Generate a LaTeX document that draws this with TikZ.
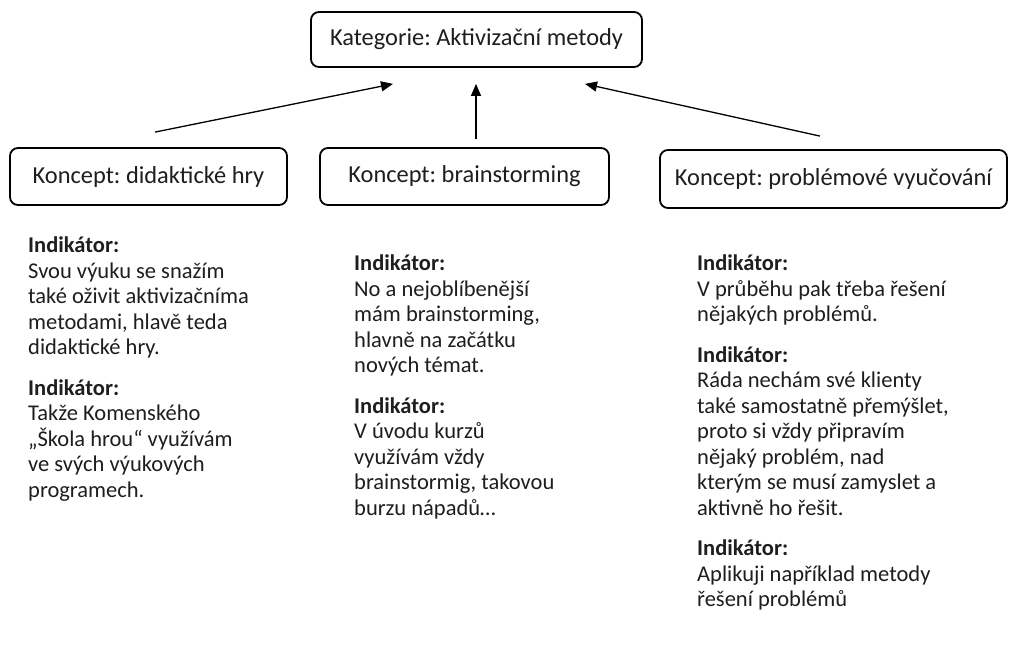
\documentclass[tikz,border=0pt]{standalone}
\usepackage{fontspec}
\setmainfont{Carlito}
\frenchspacing
\usetikzlibrary{arrows.meta,calc}
\definecolor{txt}{HTML}{1E1E1E}
\begin{document}
\begin{tikzpicture}[x=1pt,y=-1pt,
  box/.style={draw, line width=1.8pt, rounded corners=8pt, inner sep=0pt,
    text=txt, font=\fontsize{24.4}{28}\selectfont},
  arr/.style={line width=1.3pt, -{Triangle[length=12pt,width=10pt]}},
  ind/.style={anchor=north west, inner sep=0pt, align=left, text=txt,
    font=\fontsize{22.5}{25.5}\selectfont},
]
\useasboundingbox (0,0) rectangle (1014,650);
\fill[white] (0,0) rectangle (1014,650);

\node[box, minimum width=331pt, minimum height=55pt] (cat) at (476.5,39.5) {Kategorie: Aktivizační metody};
\node[box, minimum width=277pt, minimum height=57pt] (k1) at (148.5,176.5) {Koncept: didaktické hry};
\node[box, minimum width=289pt, minimum height=57pt] (k2) at (464.5,176.5) {Koncept: brainstorming};
\node[box, minimum width=347pt, minimum height=58pt] (k3) at (833.5,179) {Koncept: problémové vyučování};

\coordinate (s1) at ($(k1.north)+(6.5,-15)$);
\coordinate (e1) at ($(cat.south)+(-83.5,16)$);
\coordinate (s2) at ($(k2.north)+(11.5,-8)$);
\coordinate (e2) at ($(cat.south)+(-0.5,16)$);
\coordinate (s3) at ($(k3.north)+(-13.5,-13)$);
\coordinate (e3) at ($(cat.south)+(108.5,16)$);
\draw[arr] (s1) -- (e1);
\draw[arr] (s2) -- (e2);
\draw[arr] (s3) -- (e3);

\node[ind] (c1) at (28,237) {\textbf{Indikátor:}\\
Svou výuku se snažím\\
také oživit aktivizačníma\\
metodami, hlavě teda\\
didaktické hry.\\[15pt]
\textbf{Indikátor:}\\
Takže Komenského\\
„Škola hrou“ využívám\\
ve svých výukových\\
programech.};

\node[ind] (c2) at (354,255) {\textbf{Indikátor:}\\
No a nejoblíbenější\\
mám brainstorming,\\
hlavně na začátku\\
nových témat.\\[15pt]
\textbf{Indikátor:}\\
V úvodu kurzů\\
využívám vždy\\
brainstormig, takovou\\
burzu nápadů…};

\node[ind] (c3) at (697,255) {\textbf{Indikátor:}\\
V průběhu pak třeba řešení\\
nějakých problémů.\\[15pt]
\textbf{Indikátor:}\\
Ráda nechám své klienty\\
také samostatně přemýšlet,\\
proto si vždy připravím\\
nějaký problém, nad\\
kterým se musí zamyslet a\\
aktivně ho řešit.\\[15pt]
\textbf{Indikátor:}\\
Aplikuji například metody\\
řešení problémů};
\end{tikzpicture}
\end{document}
